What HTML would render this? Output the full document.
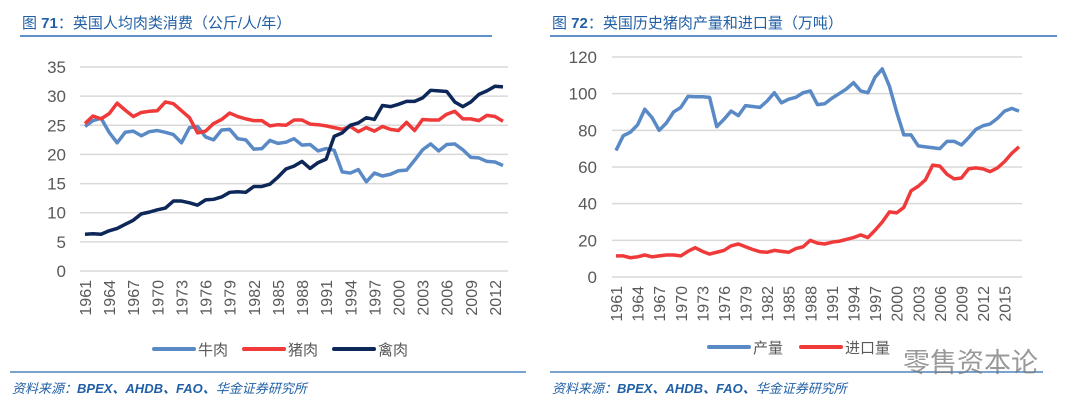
<!DOCTYPE html>
<html><head><meta charset="utf-8"><style>
body{margin:0;background:#fff;width:1075px;height:410px;overflow:hidden;font-family:"Liberation Sans","Noto Sans CJK SC",sans-serif}
svg{position:absolute;left:0;top:0}
</style></head><body>
<svg width="1075" height="410" font-family="Liberation Sans, Noto Sans CJK SC, sans-serif">
<text x="22" y="28" font-size="15" fill="#2160a6">图 <tspan font-weight="bold">71</tspan>：英国人均肉类消费（公斤/人/年）</text>
<line x1="20" y1="36" x2="492" y2="36" stroke="#2b6cb3" stroke-width="1.5"/>
<text x="552" y="28" font-size="15" fill="#2160a6">图 <tspan font-weight="bold">72</tspan>：英国历史猪肉产量和进口量（万吨）</text>
<line x1="550" y1="36" x2="1057" y2="36" stroke="#2b6cb3" stroke-width="1.5"/>
<line x1="10" y1="372" x2="526" y2="372" stroke="#2b6cb3" stroke-width="1.2"/>
<line x1="550" y1="372" x2="1043" y2="372" stroke="#2b6cb3" stroke-width="1.2"/>
<text x="12" y="393" font-size="13" font-style="italic" fill="#2160a6">资料来源：<tspan font-weight="bold">BPEX、AHDB、FAO、</tspan>华金证券研究所</text>
<text x="552" y="393" font-size="13" font-style="italic" fill="#2160a6">资料来源：<tspan font-weight="bold">BPEX、AHDB、FAO、</tspan>华金证券研究所</text>
<text x="903" y="372" font-size="27" fill="#777" opacity="0.75">零售资本论</text>
<g id="left"></g><g id="right"></g>
</svg>
<script>
const leftYears=[];for(let y=1961;y<=2013;y++)leftYears.push(y);
const beef=[24.8,25.8,26.2,23.8,22.0,23.8,24.0,23.2,23.9,24.1,23.8,23.4,22.0,24.6,24.8,23.0,22.5,24.2,24.3,22.7,22.5,20.9,21.0,22.4,21.9,22.1,22.7,21.6,21.7,20.6,21.0,20.7,17.0,16.8,17.4,15.3,16.8,16.3,16.6,17.2,17.3,19.0,20.8,21.8,20.6,21.7,21.8,20.8,19.5,19.4,18.8,18.7,18.1];
const pork=[25.3,26.6,26.1,27.0,28.8,27.6,26.5,27.2,27.4,27.5,29.0,28.7,27.5,26.3,23.7,24.0,25.3,26.0,27.1,26.5,26.1,25.8,25.8,24.9,25.1,25.0,25.9,25.9,25.2,25.1,24.9,24.6,24.3,24.8,23.9,24.6,24.0,24.8,24.3,24.1,25.5,24.1,26.0,25.9,25.9,26.9,27.4,26.1,26.1,25.8,26.7,26.5,25.7];
const poultry=[6.3,6.4,6.3,6.9,7.3,8.0,8.7,9.8,10.1,10.5,10.8,12.0,12.0,11.7,11.3,12.2,12.3,12.7,13.5,13.6,13.5,14.5,14.5,14.9,16.1,17.5,18.0,18.8,17.6,18.6,19.2,23.1,23.7,25.0,25.4,26.3,26.0,28.4,28.2,28.6,29.1,29.1,29.7,31.0,30.9,30.8,29.0,28.2,29.0,30.3,30.9,31.7,31.6];
const leftTicks=[0,5,10,15,20,25,30,35];
const rightYears=[];for(let y=1961;y<=2017;y++)rightYears.push(y);
const production=[69,77,79,83,91.5,87,80,84,90,92.5,98.5,98.3,98.3,98,82,86,90.5,88,93.5,93,92.5,96,100.5,95,97,98,100.5,101.5,94,94.5,97.5,100,102.5,106,101.5,100.5,109,113.5,104,90,77.5,77.5,71.5,71,70.5,70,74,74,72,76,80.5,82.5,83.5,86.5,90.5,92,90.5];
const imports=[11.5,11.5,10.5,11,12,11,11.5,12,12,11.5,14,16,14,12.5,13.5,14.5,17,18,16.5,15,13.8,13.5,14.5,14,13.5,15.5,16.5,20,18.5,18,19,19.5,20.5,21.5,23,21.5,25.5,30,35.5,35,38,47,49.5,53,61,60.5,56,53.5,54,59,59.5,59,57.5,59.5,63,67.5,71];
const rightTicks=[0,20,40,60,80,100,120];
const NS='http://www.w3.org/2000/svg';
function mk(p,t,a){const e=document.createElementNS(NS,t);for(const k in a)e.setAttribute(k,a[k]);p.appendChild(e);return e;}
function chart(g,o){
  const xs=y=>o.x0+(y-o.years[0])*(o.x1-o.x0)/(o.years[o.years.length-1]-o.years[0]);
  const ys=v=>o.y0-(v-o.min)*(o.y0-o.y1)/(o.max-o.min);
  o.ticks.forEach(t=>{
    const l=mk(g,'line',{x1:o.gx0,x2:o.gx1,y1:ys(t),y2:ys(t),stroke:'#d9d9d9','stroke-width':1.5});
    
    
    const tx=mk(g,'text',{x:o.lx,y:ys(t)+6,'text-anchor':'end','font-size':17,fill:'#595959'});
    tx.textContent=t;
    
    
  });
  o.years.forEach(y=>{ if((y-1961)%3) return;
    const x=xs(y),yy=o.y0+9;
    const tx=mk(g,'text',{x:x+6,y:yy,'text-anchor':'end','font-size':16,fill:'#595959',transform:`rotate(-90 ${x+6} ${yy})`});
    tx.textContent=y;
    
    
  });
  o.series.forEach(s=>{
    const p=mk(g,'polyline',{points:s.v.map((v,i)=>xs(o.years[i])+','+ys(v)).join(' '),fill:'none',stroke:s.c,'stroke-width':3.5,'stroke-linejoin':'round'});
    
    
    const l=mk(g,'line',{x1:s.lx,x2:s.lx+40,y1:o.legY,y2:o.legY,stroke:s.c,'stroke-width':4,'stroke-linecap':'round'});
    
    
    const t=mk(g,'text',{x:s.lx+44,y:o.legY+6,'font-size':15,fill:'#595959'});
    t.textContent=s.label;
    
    
  });
}
chart(document.getElementById('left'),{years:leftYears,x0:85,x1:503,y0:271,y1:67,min:0,max:35,ticks:leftTicks,gx0:80,gx1:508,lx:66,legY:349,
 series:[{v:beef,c:'#5a8ac6',n:'beef',label:'牛肉',lx:154},{v:pork,c:'#f03a3a',n:'pork',label:'猪肉',lx:244},{v:poultry,c:'#0d2758',n:'poultry',label:'禽肉',lx:334}]});
chart(document.getElementById('right'),{years:rightYears,x0:616,x1:1019,y0:277,y1:57,min:0,max:120,ticks:rightTicks,gx0:612,gx1:1022,lx:597,legY:347,
 series:[{v:production,c:'#5a8ac6',n:'production',label:'产量',lx:709},{v:imports,c:'#f03a3a',n:'imports',label:'进口量',lx:801}]});
</script>
</body></html>
